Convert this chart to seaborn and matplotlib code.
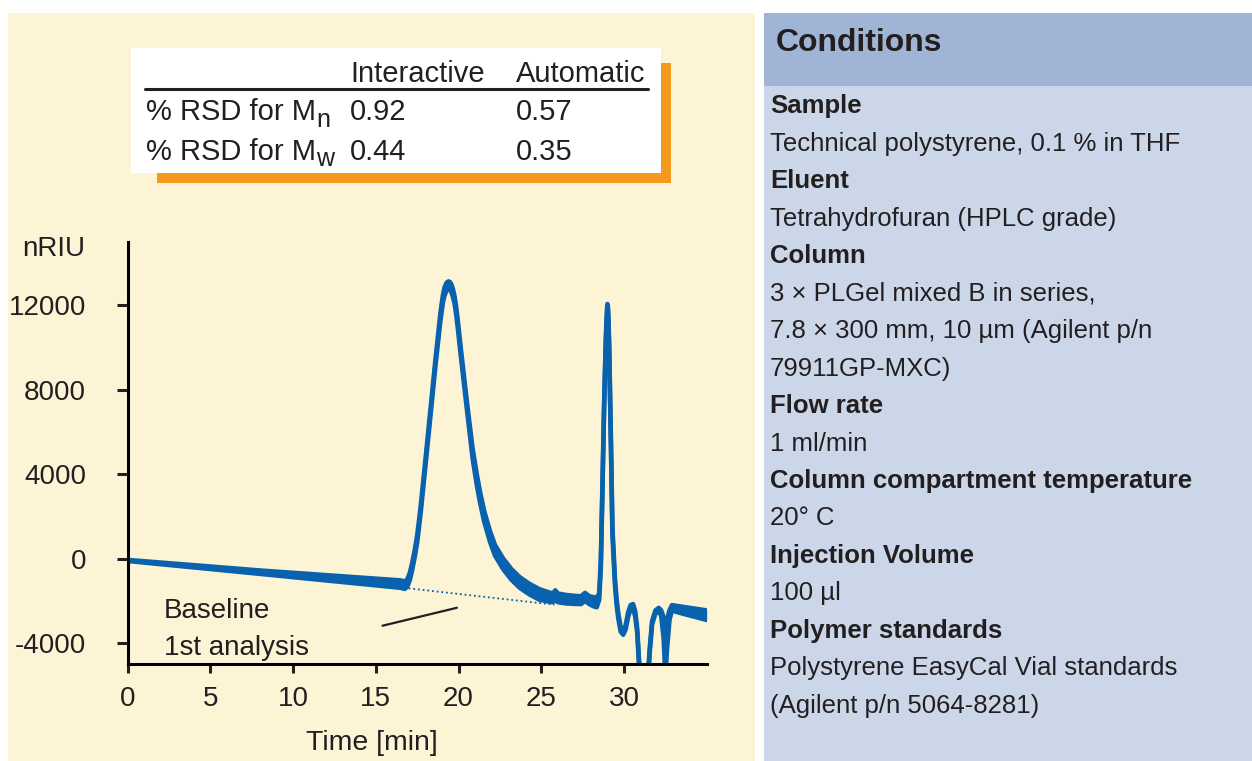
import matplotlib
matplotlib.use('Agg')
import matplotlib.pyplot as plt
from matplotlib import font_manager
from matplotlib.patches import Rectangle
import pandas as pd
import seaborn as sns

# GPC chromatogram; two runs bracket the overlay band
time_min = [0.0, 8.0, 16.5, 16.75, 16.9, 17.05, 17.2, 17.35, 17.5, 17.7,
            18.0, 18.3, 18.6, 18.9, 19.05, 19.15, 19.25, 19.33, 19.4, 19.48,
            19.56, 19.65, 19.75, 19.85, 19.95, 20.15, 20.5, 20.85, 21.1, 21.3,
            21.55, 21.9, 22.2, 22.7, 23.2, 23.7, 24.3, 24.9, 25.4, 25.7,
            25.85, 26.0, 26.5, 27.0, 27.4, 27.65, 27.9, 28.15, 28.35, 28.5,
            28.6, 28.7, 28.8, 28.9, 28.97, 29.0, 29.04, 29.1, 29.2, 29.3,
            29.45, 29.55, 29.65, 29.8, 29.95, 30.1, 30.25, 30.4, 30.55, 30.68,
            30.8, 30.9, 31.0, 31.45, 31.55, 31.7, 31.9, 32.1, 32.25, 32.4,
            32.5, 32.6, 32.75, 32.9, 33.3, 35.0]
run_upper = [-60, -560, -1030, -1080, -980, -680, -200, 400, 1100, 2400,
             4700, 7050, 9400, 11600, 12450, 12820, 13020, 13100, 13120, 13090,
             12990, 12780, 12450, 11950, 11300, 9850, 7450, 5200, 4000, 3150,
             2250, 1300, 650, 0, -500, -880, -1200, -1450, -1580, -1650,
             -1500, -1650, -1720, -1760, -1780, -1620, -1780, -1820, -1850, -1650,
             -100, 3600, 7400, 10400, 11800, 12050, 11850, 10300, 6100, 1500,
             -900, -1900, -2550, -3250, -3450, -3150, -2550, -2200, -2150, -2500,
             -3300, -4700, -5600, -5600, -4300, -2950, -2450, -2330, -2450, -2800,
             -3100, -2900, -2450, -2200, -2250, -2450]
run_lower = [-110, -720, -1380, -1430, -1330, -1020, -520, 80, 780, 2100,
             4400, 6750, 9100, 11250, 12100, 12450, 12650, 12730, 12750, 12720,
             12630, 12420, 12100, 11600, 10950, 9500, 7100, 4750, 3500, 2650,
             1750, 800, 150, -500, -1000, -1380, -1700, -1950, -2020, -2060,
             -1950, -2060, -2120, -2140, -2150, -2000, -2150, -2250, -2300, -1950,
             -400, 3300, 7100, 10100, 11500, 11750, 11550, 10000, 5800, 1200,
             -1200, -2150, -2800, -3450, -3600, -3350, -2750, -2400, -2350, -2750,
             -3500, -4900, -5600, -5600, -4500, -3100, -2600, -2480, -2700, -3800,
             -5600, -4300, -2900, -2450, -2550, -2900]

# dotted integration baseline and the pointer to it
baseline_t = [16.7, 25.8]
baseline_v = [-1380, -2180]
pointer_t = [15.4, 19.9]
pointer_v = [-3175, -2325]

x_ticks = [0, 5, 10, 15, 20, 25, 30]
y_ticks = [-4000, 0, 4000, 8000, 12000]

table_cols = ['Interactive', 'Automatic']
table_rows = ['% RSD for M', '% RSD for M']
table_subs = ['n', 'w']
table_vals = [['0.92', '0.57'], ['0.44', '0.35']]

cond_headings = ['Sample', 'Eluent', 'Column', 'Flow rate',
                 'Column compartment temperature', 'Injection Volume',
                 'Polymer standards']
cond_details = [['Technical polystyrene, 0.1 % in THF'],
                ['Tetrahydrofuran (HPLC grade)'],
                ['3 × PLGel mixed B in series,',
                 '7.8 × 300 mm, 10 µm (Agilent p/n',
                 '79911GP-MXC)'],
                ['1 ml/min'],
                ['20° C'],
                ['100 µl'],
                ['Polystyrene EasyCal Vial standards',
                 '(Agilent p/n 5064-8281)']]

cream = '#fdf4d6'
panel_blue = '#cbd7e9'
header_blue = '#a0b5d6'
orange = '#f39a1f'
ink = '#231f20'
trace = '#0862ad'

sns.set_style('ticks')
available = {f.name for f in font_manager.fontManager.ttflist}
regular = 'Liberation Sans' if 'Liberation Sans' in available else 'DejaVu Sans'
narrow = 'Liberation Sans Narrow' if 'Liberation Sans Narrow' in available else None
plt.rcParams['font.family'] = [regular, 'DejaVu Sans']
right_font = narrow or regular
right_size = 22 if narrow else 18.5
tick_font = narrow or regular
tick_size = 22 if narrow else 20

W, H = 1252, 761
fig = plt.figure(figsize=(W / 100, H / 100), dpi=100, facecolor='white')


def fx(x):
    return x / W


def fy(y):
    return 1 - y / H


def box(x0, y0, x1, y1, color, z):
    fig.add_artist(Rectangle((fx(x0), fy(y1)), fx(x1 - x0), (y1 - y0) / H,
                             transform=fig.transFigure, color=color, lw=0, zorder=z))


# panels
box(8, 13, 755, 761, cream, -10)
box(764, 13, 1252, 761, panel_blue, -10)
box(764, 13, 1252, 86, header_blue, -9)

# results table with its orange shadow
box(157, 63, 671, 183, orange, -8)
box(131, 48, 661, 173, 'white', -7)
fig.add_artist(plt.Line2D([fx(145), fx(648)], [fy(88.5), fy(88.5)],
                          transform=fig.transFigure, color=ink, lw=2.2))
col_x = [350, 516]
for cx, name in zip(col_x, table_cols):
    fig.text(fx(cx), fy(81.5), name, fontsize=21, color=ink, va='baseline')
for row_y, label, sub, vals in zip([120, 159.5], table_rows, table_subs, table_vals):
    fig.text(fx(146), fy(row_y), label, fontsize=21, color=ink, va='baseline')
    fig.text(fx(316), fy(row_y + 7), sub, fontsize=18, color=ink, va='baseline')
    for cx, v in zip(col_x, vals):
        fig.text(fx(cx), fy(row_y), v, fontsize=21, color=ink, va='baseline')

# conditions panel
fig.text(fx(776), fy(50.7), 'Conditions', family=right_font, fontsize=right_size + 4.5,
         fontweight='bold', color=ink, va='baseline')
line = 0
for head, details in zip(cond_headings, cond_details):
    fig.text(fx(770), fy(113.5 + 37.45 * line), head, family=right_font,
             fontsize=right_size, fontweight='bold', color=ink, va='baseline')
    line += 1
    for d in details:
        fig.text(fx(770), fy(113.5 + 37.45 * line), d, family=right_font,
                 fontsize=right_size, color=ink, va='baseline')
        line += 1

# chromatogram
ax = fig.add_axes([fx(127.7), fy(664.3), fx(706.7 - 127.7), (664.3 - 241.7) / H])
ax.set_facecolor('none')

df = pd.concat([
    pd.DataFrame({'time': time_min, 'signal': run_upper, 'run': 'upper'}),
    pd.DataFrame({'time': time_min, 'signal': run_lower, 'run': 'lower'}),
])
ax.fill_between(time_min, run_lower, run_upper, color=trace, lw=0)
sns.lineplot(data=df, x='time', y='signal', units='run', estimator=None,
             sort=False, color=trace, lw=3.3, ax=ax, legend=False)
ax.plot(baseline_t, baseline_v, color=trace, lw=1.3, ls=(0, (1, 1.6)))
ax.plot(pointer_t, pointer_v, color=ink, lw=1.6)

ax.text(2.2, -2800, 'Baseline', fontsize=20, color=ink, va='baseline')
ax.text(2.2, -4540, '1st analysis', fontsize=20, color=ink, va='baseline')

ax.set_xlim(0, 35)
ax.set_ylim(-5000, 15000)
ax.set_xticks(x_ticks)
ax.set_yticks(y_ticks)
ax.set_xticklabels([str(t) for t in x_ticks], family=tick_font, fontsize=tick_size)
ax.set_yticklabels([str(t) for t in y_ticks], family=tick_font, fontsize=tick_size)
ax.tick_params(axis='x', length=6.5, width=2.2, pad=9, colors=ink)
ax.tick_params(axis='y', length=8, width=2.2, pad=22, colors=ink)
for side in ['top', 'right']:
    ax.spines[side].set_visible(False)
for side in ['left', 'bottom']:
    ax.spines[side].set_linewidth(2.2)
    ax.spines[side].set_color('black')

ax.set_xlabel('Time [min]', fontsize=20.5, color=ink)
ax.xaxis.label.set_va('baseline')
ax.xaxis.set_label_coords((372 - 127.7) / 579, -0.2028)
ax.set_ylabel('nRIU', family=tick_font, fontsize=tick_size, color=ink,
              rotation=0, ha='left', va='baseline')
ax.yaxis.set_label_coords((22 - 127.7) / 579, 0.9662)

fig.savefig('out.png', dpi=100, facecolor='white')
